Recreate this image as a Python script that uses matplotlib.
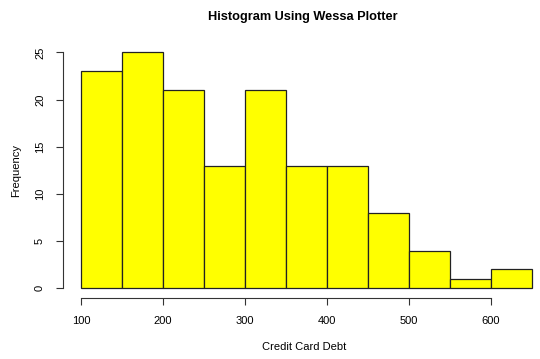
import numpy as np
import matplotlib.pyplot as plt

plt.rcParams['font.family'] = ['Liberation Sans', 'DejaVu Sans']

bin_edges = [100, 150, 200, 250, 300, 350, 400, 450, 500, 550, 600, 650]
counts = [23, 25, 21, 13, 21, 13, 13, 8, 4, 1, 2]
x_ticks = [100, 200, 300, 400, 500, 600]
y_ticks = [0, 5, 10, 15, 20, 25]

fig = plt.figure(figsize=(5.4, 3.59), dpi=100)
ax = fig.add_axes([63 / 540, 0.1708, 482 / 540, 0.8805 - 0.1708])

edges = np.array(bin_edges)
ax.bar(edges[:-1], counts, width=np.diff(edges), align='edge',
       color='#ffff00', edgecolor='#222222', linewidth=0.9)

ax.set_xlim(78, 78 + 482 / 0.82)
ax.set_ylim(-1, 26)
ax.set_xticks(x_ticks)
ax.set_yticks(y_ticks)
ax.set_yticklabels([str(v) for v in y_ticks], rotation=90, va='center')

for s in ['top', 'right']:
    ax.spines[s].set_visible(False)
ax.spines['left'].set_bounds(0, 25)
ax.spines['bottom'].set_bounds(100, 600)
for s in ['left', 'bottom']:
    ax.spines[s].set_linewidth(0.8)
    ax.spines[s].set_color('#333333')

ax.tick_params(length=5, width=0.8, color='#333333', labelsize=8, pad=8)

ax.set_xlabel('Credit Card Debt', fontsize=8, labelpad=12)
ax.set_ylabel('Frequency', fontsize=8, labelpad=10)
fig.text(302.5 / 540, 1 - 17 / 359, 'Histogram Using Wessa Plotter',
         fontsize=9.2, fontweight='bold', ha='center', va='center')

fig.savefig('out.png', dpi=100)
